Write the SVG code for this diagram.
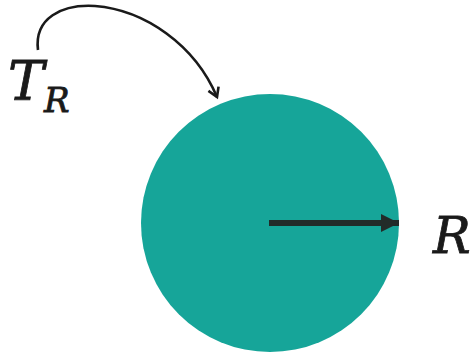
<svg xmlns="http://www.w3.org/2000/svg" width="472" height="353" viewBox="0 0 472 353">
<style>
.lbl{font-family:"DejaVu Serif","Liberation Serif",serif;font-style:italic;fill:#1a1a1a;stroke:#1a1a1a;stroke-width:0.8}
</style>
<defs>
<marker id="chev" markerWidth="14" markerHeight="14" refX="10" refY="7" orient="auto" markerUnits="userSpaceOnUse">
<path d="M1,1.5 L10,7 L1,12.5" fill="none" stroke="#1a1a1a" stroke-width="2.6"/>
</marker>
<marker id="tri" markerWidth="20" markerHeight="20" refX="18" refY="10" orient="auto" markerUnits="userSpaceOnUse">
<path d="M0,1 L18,10 L0,19 Z" fill="#222b29"/>
</marker>
</defs>
<rect width="472" height="353" fill="#fff"/>
<g id="sphere">
<circle cx="270" cy="223" r="129" fill="#16a599"/>
</g>
<g id="connectors">
<path d="M38,50 C34,18 62,4 95,6 C145,10 195,45 217,97" fill="none" stroke="#1a1a1a" stroke-width="2.6" marker-end="url(#chev)"/>
<line x1="269" y1="223" x2="399" y2="223" stroke="#222b29" stroke-width="6" marker-end="url(#tri)"/>
</g>
<g id="label-TR">
<text class="lbl" x="8" y="100" font-size="54">T<tspan font-size="34" dy="12">R</tspan></text>
</g>
<g id="label-R">
<text class="lbl" x="433" y="253" font-size="50">R</text>
</g>
</svg>
